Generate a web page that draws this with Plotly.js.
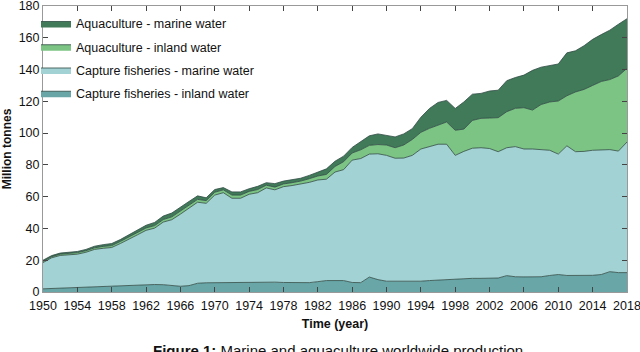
<!DOCTYPE html>
<html>
<head>
<meta charset="utf-8">
<script src="https://cdn.plot.ly/plotly-3.0.1.min.js"></script>
<style>
	body { margin: 0; background: #fff; }
	#chart { width: 640px; height: 352px; }
</style>
</head>
<body>
<div id="chart"></div>
<script>
const years = [
	1950, 1951, 1952, 1953, 1954, 1955, 1956, 1957, 1958, 1959,
	1960, 1961, 1962, 1963, 1964, 1965, 1966, 1967, 1968, 1969,
	1970, 1971, 1972, 1973, 1974, 1975, 1976, 1977, 1978, 1979,
	1980, 1981, 1982, 1983, 1984, 1985, 1986, 1987, 1988, 1989,
	1990, 1991, 1992, 1993, 1994, 1995, 1996, 1997, 1998, 1999,
	2000, 2001, 2002, 2003, 2004, 2005, 2006, 2007, 2008, 2009,
	2010, 2011, 2012, 2013, 2014, 2015, 2016, 2017, 2018
]

// million tonnes
const capture_inland = [
	2.0, 2.2, 2.5, 2.7, 3.0, 3.1, 3.3, 3.5, 3.7, 3.9,
	4.1, 4.3, 4.7, 4.7, 4.6, 4.3, 3.6, 4.0, 5.5, 5.8,
	5.9, 5.9, 5.9, 6.0, 6.0, 6.2, 6.3, 6.2, 6.0, 5.9,
	5.9, 5.9, 6.5, 7.2, 7.2, 7.2, 6.0, 5.9, 9.4, 7.8,
	6.8, 6.7, 6.7, 6.7, 6.8, 7.2, 7.5, 7.6, 8.3, 8.6,
	8.6, 8.6, 8.6, 8.8, 10.3, 9.6, 9.5, 9.5, 9.6, 10.4,
	11.0, 10.4, 10.3, 10.3, 10.5, 11.0, 12.8, 12.2, 12.2
]
const capture_marine = [
	16.5, 19.3, 20.5, 20.6, 20.8, 21.9, 23.5, 24.0, 24.3, 26.6,
	28.9, 31.7, 34.1, 35.5, 39.4, 41.2, 45.4, 48.5, 51.0, 50.0,
	55.1, 56.6, 53.1, 53.0, 55.5, 56.3, 59.2, 58.1, 60.3, 61.1,
	61.9, 63.1, 64.0, 63.8, 68.3, 69.8, 77.0, 78.1, 77.4, 79.2,
	79.2, 77.5, 77.6, 79.3, 83.2, 84.3, 85.5, 85.4, 77.7, 79.9,
	81.9, 82.2, 81.7, 79.5, 80.5, 81.9, 80.5, 80.5, 80.0, 78.8,
	75.8, 81.6, 78.0, 78.2, 78.7, 78.5, 76.8, 76.5, 82.2
]
const aqua_inland = [
	0.8, 0.7, 0.8, 0.8, 1.0, 1.0, 1.0, 1.2, 1.2, 1.3,
	1.5, 1.5, 1.5, 1.6, 1.6, 1.8, 2.0, 2.0, 1.8, 1.7,
	1.8, 1.8, 2.0, 2.0, 1.8, 2.0, 1.7, 1.7, 1.7, 1.8,
	2.0, 2.3, 2.5, 3.0, 3.5, 5.0, 4.5, 5.5, 5.5, 5.8,
	6.5, 6.6, 8.2, 10.0, 10.5, 11.5, 12.0, 14.0, 15.8, 14.0,
	17.5, 18.5, 19.2, 21.4, 22.7, 24.1, 26.0, 24.5, 28.4, 30.4,
	33.4, 31.5, 37.6, 39.0, 40.8, 43.0, 44.1, 47.3, 46.4
]
const aqua_marine = [
	0.7, 0.7, 0.7, 0.7, 0.7, 0.8, 1.0, 1.1, 1.3, 1.2,
	1.5, 1.5, 1.7, 2.0, 2.2, 2.4, 2.5, 2.5, 2.2, 1.8,
	1.7, 1.4, 2.0, 2.0, 1.7, 2.0, 1.6, 2.2, 1.8, 1.9,
	1.8, 2.1, 2.3, 3.5, 3.3, 3.5, 3.5, 5.0, 6.0, 6.7,
	6.0, 6.8, 7.0, 6.8, 9.5, 12.5, 14.3, 13.6, 13.7, 17.1,
	16.5, 15.7, 17.0, 17.3, 19.5, 19.4, 20.5, 25.0, 23.5, 22.7,
	23.3, 27.0, 25.9, 27.5, 29.0, 29.5, 31.1, 32.5, 31.2
]

const xticks = [1950, 1954, 1958, 1962, 1966, 1970, 1974, 1978, 1982,
	1986, 1990, 1994, 1998, 2002, 2006, 2010, 2014, 2018]
const yticks = [0, 20, 40, 60, 80, 100, 120, 140, 160, 180]

const FONT = 'Liberation Sans, Arial, sans-serif'
const EDGE = '#2f4a44'

function layer(name, values, color, rank){
	return {
		x: years,
		y: values,
		name: name,
		type: 'scatter',
		mode: 'lines',
		stackgroup: 'one',
		legendgroup: name,
		legendrank: rank,
		line: {color: EDGE, width: 0.8},
		fillcolor: color,
	}
}

let traces = [
	layer('Capture fisheries - inland water', capture_inland, '#68a6a8', 4),
	layer('Capture fisheries - marine water', capture_marine, '#a3d2d4', 3),
	layer('Aquaculture - inland water', aqua_inland, '#7cc484', 2),
	layer('Aquaculture - marine water', aqua_marine, '#407a58', 1),
]

Plotly.newPlot('chart', traces, {
	width: 640,
	height: 352,
	margin: {l: 43, r: 13, t: 6, b: 60},
	paper_bgcolor: '#fff',
	plot_bgcolor: '#fff',
	font: {family: FONT, size: 12.5, color: '#111'},
	showlegend: true,
	legend: {
		x: -0.012, y: 0.99, xanchor: 'left', yanchor: 'top',
		traceorder: 'grouped',
		tracegroupgap: 4,
		itemwidth: 30,
		bgcolor: 'rgba(0,0,0,0)',
		font: {family: FONT, size: 12.5, color: '#111'},
	},
	xaxis: {
		range: [1950, 2018],
		tickvals: xticks,
		ticks: 'inside', ticklen: 5, tickcolor: '#444', tickwidth: 1,
		mirror: 'ticks', showline: true, linecolor: '#999', linewidth: 1,
		showgrid: false, zeroline: false,
		ticklabeloverflow: 'allow',
		ticklabelstandoff: 2,
		tickfont: {family: FONT, size: 12.5},
		title: {text: '<b>Time (year)</b>', font: {family: FONT, size: 12.5}, standoff: 7},
	},
	yaxis: {
		range: [0, 180],
		tickvals: yticks,
		ticks: 'inside', ticklen: 5, tickcolor: '#444', tickwidth: 1,
		mirror: 'ticks', showline: true, linecolor: '#999', linewidth: 1,
		showgrid: false, zeroline: false,
		ticklabeloverflow: 'allow',
		tickfont: {family: FONT, size: 12.5},
		title: {text: '<b>Million tonnes</b>', font: {family: FONT, size: 12}, standoff: 6},
	},
	annotations: [{
		text: '<b>Figure 1:</b> Marine and aquaculture worldwide production',
		xref: 'paper', yref: 'paper', x: 0.505, y: -0.205,
		xanchor: 'center', yanchor: 'middle', showarrow: false,
		font: {family: FONT, size: 15, color: '#111'},
	}],
}, {displayModeBar: false, staticPlot: true});
</script>
</body>
</html>
